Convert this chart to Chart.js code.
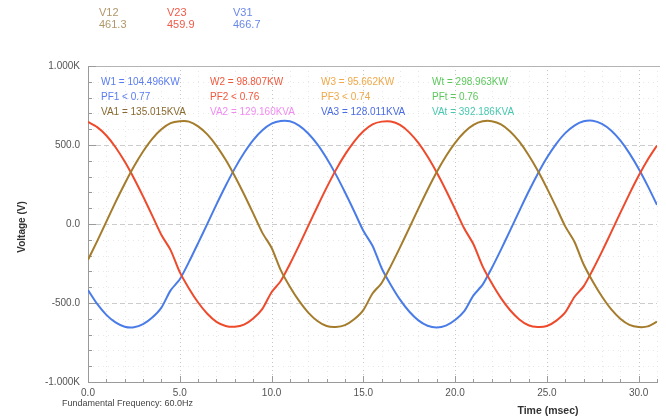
<!DOCTYPE html>
<html>
<head>
<meta charset="utf-8">
<script src="https://cdn.jsdelivr.net/npm/chart.js@4.4.1/dist/chart.umd.min.js"></script>
<style>
  html, body { margin: 0; padding: 0; background: #fff; }
  #wrap { position: relative; width: 666px; height: 420px; }
</style>
</head>
<body>
<div id="wrap"><canvas id="scope" width="666" height="420"></canvas></div>
<script>
'use strict';
/* 3-phase line voltage capture — waveform screen */

const timeMs = [0, 0.5, 1, 1.5, 2, 2.5, 3, 3.5, 4, 4.5, 5, 5.5, 6, 6.5, 7, 7.5, 8, 8.5, 9, 9.5,
  10, 10.5, 11, 11.5, 12, 12.5, 13, 13.5, 14, 14.5, 15, 15.5, 16, 16.5, 17, 17.5, 18, 18.5, 19, 19.5,
  20, 20.5, 21, 21.5, 22, 22.5, 23, 23.5, 24, 24.5, 25, 25.5, 26, 26.5, 27, 27.5, 28, 28.5, 29, 29.5,
  30, 30.5, 31];

// V12 (brown)
const v12 = [-227, -108, 15, 138, 255, 364, 459, 539, 599, 638,
  650, 648, 618, 567, 495, 406, 302, 188, 67, -56,
  -150, -292, -397, -487, -561, -614, -646, -652, -640, -603,
  -545, -440, -373, -265, -148, -26, 97, 217, 329, 429,
  514, 581, 627, 650, 651, 631, 586, 521, 437, 338,
  227, 108, -15, -112, -255, -364, -459, -539, -599, -638,
  -652, -648, -618];

// V23 (red)
const v23 = [646, 613, 560, 486, 395, 290, 175, 53, -70, -165,
  -305, -408, -497, -568, -619, -645, -650, -637, -598, -537,
  -432, -361, -253, -135, -12, 111, 230, 341, 439, 522,
  587, 631, 648, 649, 627, 580, 513, 427, 326, 214,
  94, -29, -128, -268, -375, -469, -546, -604, -641, -652,
  -646, -613, -560, -462, -395, -290, -175, -53, 70, 191,
  305, 408, 497];

// V31 (blue)
const v31 = [-418, -506, -575, -623, -650, -654, -634, -592, -529, -420,
  -350, -240, -121, 1, 124, 242, 352, 449, 531, 593,
  635, 652, 650, 623, 573, 504, 416, 314, 201, 81,
  -43, -138, -280, -386, -479, -554, -610, -644, -655, -643,
  -608, -552, -452, -384, -278, -162, -40, 83, 204, 317,
  419, 506, 575, 623, 650, 654, 634, 592, 529, 447,
  350, 240, 121];

const xTickValues = [0, 5, 10, 15, 20, 25, 30];
const xTickLabels = ['0.0', '5.0', '10.0', '15.0', '20.0', '25.0', '30.0'];
const yTickValues = [-1000, -500, 0, 500, 1000];
const yTickLabels = ['-1.000K', '-500.0', '0.0', '500.0', '1.000K'];

const rmsNames  = ['V12', 'V23', 'V31'];
const rmsValues = ['461.3', '459.9', '466.7'];

const infoRow1 = ['W1 = 104.496KW', 'W2 = 98.807KW', 'W3 = 95.662KW', 'Wt = 298.963KW'];
const infoRow2 = ['PF1 < 0.77', 'PF2 < 0.76', 'PF3 < 0.74', 'PFt = 0.76'];
const infoRow3 = ['VA1 = 135.015KVA', 'VA2 = 129.160KVA', 'VA3 = 128.011KVA', 'VAt = 392.186KVA'];

const C_BROWN = '#a47c2c';
const C_RED   = '#ee4a2c';
const C_BLUE  = '#4a7ce8';
const FONT    = '"Liberation Sans", Arial, sans-serif';

function pts(arr) {
  return timeMs.map((t, i) => ({ x: t, y: arr[i] }));
}

function labelFor(values, labels) {
  return v => {
    const i = values.indexOf(v);
    return i >= 0 ? labels[i] : '';
  };
}

const decor = {
  id: 'decor',
  beforeDatasetsDraw(chart) {
    const { ctx, chartArea: a, scales: { x, y } } = chart;
    const seg = (x1, y1, x2, y2) => { ctx.beginPath(); ctx.moveTo(x1, y1); ctx.lineTo(x2, y2); ctx.stroke(); };
    ctx.save();
    ctx.lineWidth = 1;

    // vertical grid
    x.ticks.forEach(t => {
      if (t.value === 0) return;
      const px = Math.round(x.getPixelForValue(t.value)) + 0.5;
      const major = t.value % 5 === 0;
      ctx.strokeStyle = major ? '#c6c6c6' : '#e6e6e6';
      ctx.setLineDash(major ? [1, 3] : [1, 4]);
      seg(px, a.top, px, a.bottom);
    });
    // horizontal grid
    y.ticks.forEach(t => {
      if (t.value === -1000 || t.value === 1000) return;
      const py = Math.round(y.getPixelForValue(t.value)) + 0.5;
      const major = t.value % 500 === 0;
      ctx.strokeStyle = major ? '#cccccc' : '#e8e8e8';
      ctx.setLineDash(major ? [5, 3] : [1, 4]);
      seg(a.left, py, a.right, py);
    });

    ctx.setLineDash([]);
    // top frame line
    ctx.strokeStyle = '#b4b4b4';
    seg(a.left, a.top + 0.5, a.right + 3, a.top + 0.5);

    // small tick marks inside the axes
    ctx.strokeStyle = '#9a9a9a';
    x.ticks.forEach(t => {
      const px = Math.round(x.getPixelForValue(t.value)) + 0.5;
      seg(px, a.bottom, px, a.bottom - (t.value % 5 === 0 ? 6 : 3));
    });
    y.ticks.forEach(t => {
      const py = Math.round(y.getPixelForValue(t.value)) + 0.5;
      seg(a.left, py, a.left + (t.value % 500 === 0 ? 8 : 4), py);
    });
    ctx.restore();
  },
  afterDraw(chart) {
    const { ctx } = chart;
    ctx.save();
    ctx.textBaseline = 'middle';

    // RMS header
    const headCols = [99, 167, 233];
    const headColors = ['#b0976a', '#f05a48', '#6a88ea'];
    ctx.font = '11px ' + FONT;
    ctx.textAlign = 'left';
    rmsNames.forEach((n, i) => {
      ctx.fillStyle = headColors[i];
      ctx.fillText(n, headCols[i], 13);
      ctx.fillText(rmsValues[i], headCols[i], 25);
    });

    // power info overlay
    const cols = [101, 210, 321, 432];
    ctx.font = '10px ' + FONT;
    const c1 = ['#5a7cf0', '#f0583c', '#f0a848', '#5cc85c'];
    const c2 = ['#5a7cf0', '#f0583c', '#f0a848', '#5cc85c'];
    const c3 = ['#8a6a30', '#f08cf0', '#4a6ce4', '#48c8b0'];
    infoRow1.forEach((s, i) => { ctx.fillStyle = c1[i]; ctx.fillText(s, cols[i], 82); });
    infoRow2.forEach((s, i) => { ctx.fillStyle = c2[i]; ctx.fillText(s, cols[i], 97); });
    infoRow3.forEach((s, i) => { ctx.fillStyle = c3[i]; ctx.fillText(s, cols[i], 112); });

    // axis titles
    ctx.fillStyle = '#333';
    ctx.font = 'bold 10px ' + FONT;
    ctx.save();
    ctx.translate(22, 227);
    ctx.rotate(-Math.PI / 2);
    ctx.textAlign = 'center';
    ctx.fillText('Voltage (V)', 0, 0);
    ctx.restore();

    ctx.textAlign = 'center';
    ctx.font = 'bold 10.5px ' + FONT;
    ctx.fillText('Time (msec)', 548, 411);

    ctx.textAlign = 'left';
    ctx.font = '9px ' + FONT;
    ctx.fillStyle = '#444';
    ctx.fillText('Fundamental Frequency: 60.0Hz', 62, 404);
    ctx.restore();
  }
};

new Chart(document.getElementById('scope'), {
  type: 'line',
  data: {
    datasets: [
      { label: 'V12', data: pts(v12), borderColor: C_BROWN },
      { label: 'V23', data: pts(v23), borderColor: C_RED },
      { label: 'V31', data: pts(v31), borderColor: C_BLUE }
    ]
  },
  options: {
    responsive: false,
    animation: false,
    devicePixelRatio: 1,
    layout: { padding: { top: 66, right: 9, bottom: 0, left: 0 } },
    elements: {
      point: { radius: 0 },
      line: { borderWidth: 2, tension: 0.25, fill: false }
    },
    plugins: { legend: { display: false }, tooltip: { enabled: false } },
    scales: {
      x: {
        type: 'linear',
        min: 0, max: 31,
        afterFit: s => { s.height = 38; },
        grid: { display: false, drawTicks: false },
        border: { display: true, color: '#9a9a9a', width: 1 },
        ticks: {
          stepSize: 1, autoSkip: false, maxRotation: 0, padding: 5,
          color: '#555', font: { family: FONT, size: 10 },
          callback: labelFor(xTickValues, xTickLabels)
        }
      },
      y: {
        min: -1000, max: 1000,
        afterFit: s => { s.width = 88; },
        grid: { display: false, drawTicks: false },
        border: { display: true, color: '#9a9a9a', width: 1 },
        ticks: {
          stepSize: 100, autoSkip: false, padding: 8,
          color: '#555', font: { family: FONT, size: 10 },
          callback: labelFor(yTickValues, yTickLabels)
        }
      }
    }
  },
  plugins: [decor]
});
</script>
</body>
</html>
